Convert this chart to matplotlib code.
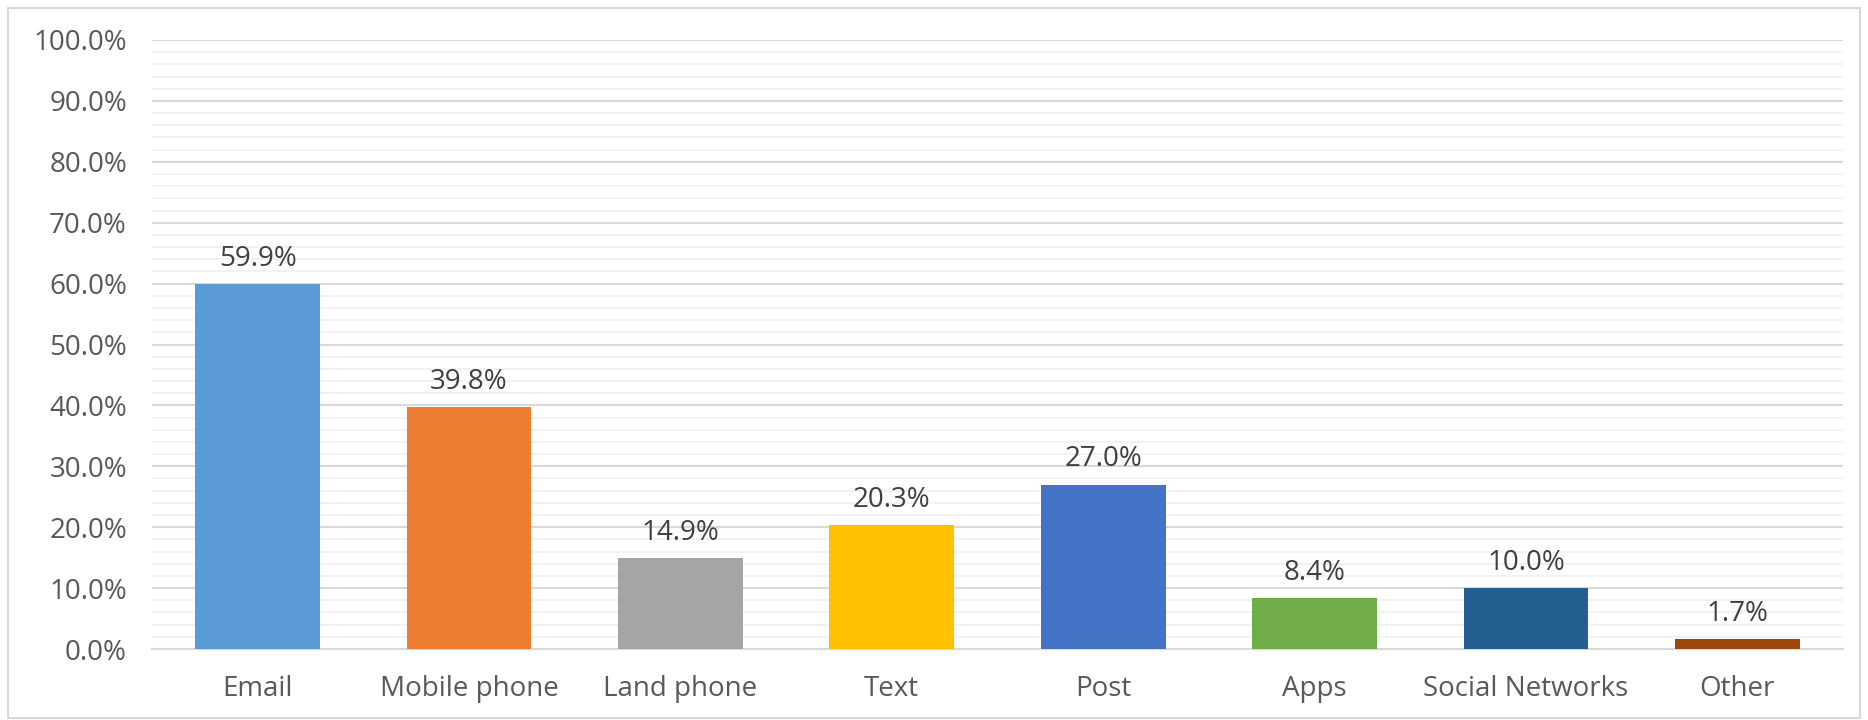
import matplotlib.pyplot as plt
from matplotlib.patches import Rectangle
from matplotlib.ticker import MultipleLocator, FuncFormatter

# Survey shares by contact channel
channels = ["Email", "Mobile phone", "Land phone", "Text", "Post",
            "Apps", "Social Networks", "Other"]
shares = [59.9, 39.8, 14.9, 20.3, 27.0, 8.4, 10.0, 1.7]
colors = ["#5B9BD5", "#ED7D31", "#A5A5A5", "#FFC000", "#4472C4",
          "#70AD47", "#255E91", "#9E480E"]

plt.rcParams['font.family'] = ['Open Sans', 'DejaVu Sans']

fig = plt.figure(figsize=(18.68, 7.2), dpi=100)
ax = fig.add_axes([152 / 1868, 1 - 649 / 720, (1843 - 152) / 1868, (649 - 40) / 720])

x = range(len(channels))
bars = ax.bar(x, shares, width=0.59, color=colors, zorder=3)

for xi, v in zip(x, shares):
    ax.annotate(f"{v:.1f}%", (xi, v), xytext=(0, 8), textcoords="offset points",
                ha="center", va="bottom", fontsize=20, color="#404040")

ax.set_ylim(0, 100)
ax.set_xlim(-0.5, len(channels) - 0.5)
ax.yaxis.set_major_locator(MultipleLocator(10))
ax.yaxis.set_minor_locator(MultipleLocator(2))
ax.yaxis.set_major_formatter(FuncFormatter(lambda v, _: f"{v:.1f}%"))
ax.grid(axis="y", which="major", color="#D9D9D9", linewidth=1.5, zorder=0)
ax.grid(axis="y", which="minor", color="#F2F2F2", linewidth=1.5, zorder=0)

ax.set_xticks(list(x))
ax.set_xticklabels(channels)
ax.tick_params(axis="both", which="both", length=0, labelsize=20, labelcolor="#595959")
ax.tick_params(axis="x", pad=19)
ax.tick_params(axis="y", pad=18)

for side in ["top", "right", "left"]:
    ax.spines[side].set_visible(False)
ax.spines["bottom"].set_color("#D9D9D9")
ax.spines["bottom"].set_linewidth(1.5)

# outer chart frame
fig.patches.append(Rectangle((8 / 1868, 2 / 720), 1852 / 1868, 710 / 720,
                             transform=fig.transFigure, fill=False,
                             edgecolor="#D9D9D9", linewidth=1.5))

fig.savefig("out.png", dpi=100, facecolor="white")
